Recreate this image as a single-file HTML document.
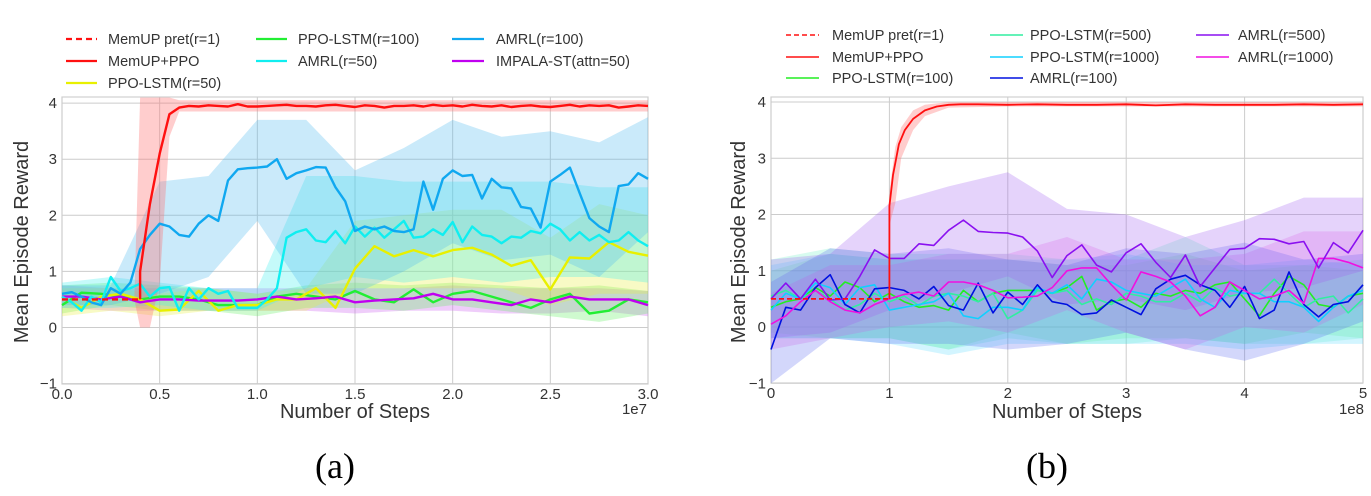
<!DOCTYPE html>
<html><head><meta charset="utf-8"><style>
html,body{margin:0;padding:0;background:#fff;}
svg{display:block;font-family:"Liberation Sans",sans-serif;}
.tk{font-size:15px;fill:#333;}
.lg{font-size:14.5px;fill:#333;}
.ax{font-size:20px;fill:#333;}
.cap{font-family:"Liberation Serif",serif;font-size:36px;fill:#000;}
</style></head><body>
<svg id="root" width="1371" height="496" viewBox="0 0 1371 496" xmlns="http://www.w3.org/2000/svg">
<g id="chartA"></g>
<g id="chartB"></g>

<g>
 <g><line x1="66" y1="39" x2="97" y2="39" stroke="#ff1010" stroke-width="2.2" stroke-dasharray="6,4"/><text class="lg" x="108" y="44">MemUP pret(r=1)</text></g>
 <g><line x1="66" y1="61" x2="97" y2="61" stroke="#ff1010" stroke-width="2.2"/><text class="lg" x="108" y="66">MemUP+PPO</text></g>
 <g><line x1="66" y1="83" x2="97" y2="83" stroke="#e8f000" stroke-width="2.2"/><text class="lg" x="108" y="88">PPO-LSTM(r=50)</text></g>
 <g><line x1="256" y1="39" x2="287" y2="39" stroke="#22ee33" stroke-width="2.2"/><text class="lg" x="298" y="44">PPO-LSTM(r=100)</text></g>
 <g><line x1="256" y1="61" x2="287" y2="61" stroke="#10eef0" stroke-width="2.2"/><text class="lg" x="298" y="66">AMRL(r=50)</text></g>
 <g><line x1="452" y1="39" x2="484" y2="39" stroke="#10a8f0" stroke-width="2.2"/><text class="lg" x="496" y="44">AMRL(r=100)</text></g>
 <g><line x1="452" y1="61" x2="484" y2="61" stroke="#c000f0" stroke-width="2.2"/><text class="lg" x="496" y="66">IMPALA-ST(attn=50)</text></g>
</g>
<g>
 <g><line x1="786" y1="35" x2="819" y2="35" stroke="#ff1010" stroke-width="1.6" stroke-dasharray="5,3"/><text class="lg" x="832" y="40">MemUP pret(r=1)</text></g>
 <g><line x1="786" y1="57" x2="819" y2="57" stroke="#ff1010" stroke-width="1.6"/><text class="lg" x="832" y="62">MemUP+PPO</text></g>
 <g><line x1="786" y1="78" x2="819" y2="78" stroke="#22ee22" stroke-width="1.6"/><text class="lg" x="832" y="83">PPO-LSTM(r=100)</text></g>
 <g><line x1="990" y1="35" x2="1023" y2="35" stroke="#30eea0" stroke-width="1.6"/><text class="lg" x="1030" y="40">PPO-LSTM(r=500)</text></g>
 <g><line x1="990" y1="57" x2="1023" y2="57" stroke="#10d0ff" stroke-width="1.6"/><text class="lg" x="1030" y="62">PPO-LSTM(r=1000)</text></g>
 <g><line x1="990" y1="78" x2="1023" y2="78" stroke="#0010e0" stroke-width="1.6"/><text class="lg" x="1030" y="83">AMRL(r=100)</text></g>
 <g><line x1="1196" y1="35" x2="1229" y2="35" stroke="#8a10f0" stroke-width="1.6"/><text class="lg" x="1238" y="40">AMRL(r=500)</text></g>
 <g><line x1="1196" y1="57" x2="1229" y2="57" stroke="#f010e0" stroke-width="1.6"/><text class="lg" x="1238" y="62">AMRL(r=1000)</text></g>
</g>

<text class="ax" x="28" y="242" text-anchor="middle" transform="rotate(-90 28 242)">Mean Episode Reward</text>
<text class="ax" x="355" y="418" text-anchor="middle">Number of Steps</text>
<text class="tk" x="647" y="414" text-anchor="end">1e7</text>
<text class="ax" x="745" y="242" text-anchor="middle" transform="rotate(-90 745 242)">Mean Episode Reward</text>
<text class="ax" x="1067" y="418" text-anchor="middle">Number of Steps</text>
<text class="tk" x="1364" y="414" text-anchor="end">1e8</text>
<text class="cap" x="335" y="478" text-anchor="middle">(a)</text>
<text class="cap" x="1047" y="478" text-anchor="middle">(b)</text>
</svg>
<script>
// ---------- Chart A data (x in 1e7) ----------
const aXTicks = [0, 0.5, 1, 1.5, 2, 2.5, 3];
const aXTickLabels = ["0.0","0.5","1.0","1.5","2.0","2.5","3.0"];
const yTicks = [-1, 0, 1, 2, 3, 4];
const yTickLabels = ["\u22121","0","1","2","3","4"];
const aMemPretX = [0, 0.4];
const aMemPretY = [0.5, 0.5];
const aMemStart = 0.4;
const aMemY = [1.0,2.2,3.1,3.8,3.92,3.95,3.94,3.96,3.95,3.94,3.98,3.94,3.94,3.95,3.96,3.97,3.95,3.95,3.94,3.96,3.97,3.95,3.93,3.96,3.95,3.92,3.95,3.95,3.96,3.94,3.97,3.95,3.96,3.94,3.97,3.95,3.94,3.96,3.93,3.95,3.96,3.94,3.93,3.95,3.97,3.94,3.96,3.95,3.96,3.92,3.94,3.96,3.95];
const aMemBandX = [0.37,0.4,0.45,0.5,0.55,0.6,3.0];
const aMemBandHi = [0.5,4.1,4.1,4.1,4.1,4.05,4.05];
const aMemBandLo = [0.5,0,0,0.8,3.4,3.85,3.85];
const aAmrl100Y = [0.6,0.63,0.55,0.45,0.4,0.7,0.6,0.8,1.4,1.65,1.85,1.8,1.65,1.62,1.85,2.0,1.9,2.62,2.82,2.84,2.85,2.87,3.0,2.65,2.75,2.8,2.86,2.85,2.5,2.25,1.72,1.8,1.75,1.8,1.72,1.7,1.75,2.6,2.1,2.65,2.8,2.7,2.72,2.3,2.65,2.5,2.48,2.15,2.12,1.78,2.6,2.72,2.85,2.4,1.95,1.8,1.7,2.52,2.55,2.75,2.65];
const aAmrl50Y = [0.55,0.45,0.3,0.55,0.45,0.9,0.65,0.7,0.78,0.55,0.7,0.72,0.3,0.7,0.5,0.7,0.6,0.65,0.35,0.35,0.35,0.5,0.7,1.6,1.7,1.75,1.55,1.52,1.72,1.5,1.8,1.62,1.78,1.6,1.75,1.9,1.6,1.62,1.75,1.65,1.88,1.52,1.8,1.65,1.62,1.5,1.62,1.6,1.72,1.68,1.85,1.75,1.55,1.7,1.55,1.65,1.52,1.55,1.7,1.55,1.45];
const aPpo50Y = [0.55,0.35,0.55,0.6,0.5,0.3,0.32,0.65,0.3,0.4,0.4,0.5,0.5,0.7,0.35,1.05,1.45,1.27,1.38,1.27,1.38,1.42,1.3,1.1,1.2,0.68,1.25,1.23,1.52,1.35,1.28];
const aPpo100Y = [0.4,0.62,0.6,0.55,0.5,0.55,0.55,0.5,0.4,0.4,0.4,0.55,0.6,0.55,0.5,0.65,0.5,0.45,0.68,0.45,0.6,0.65,0.55,0.45,0.35,0.5,0.6,0.25,0.3,0.5,0.45];
const aImpalaY = [0.55,0.55,0.5,0.55,0.45,0.5,0.5,0.48,0.48,0.48,0.5,0.55,0.5,0.52,0.55,0.45,0.48,0.5,0.52,0.6,0.5,0.5,0.45,0.4,0.5,0.45,0.55,0.5,0.5,0.5,0.4];
const aBandX = [0,0.25,0.5,0.75,1,1.25,1.5,1.75,2,2.25,2.5,2.75,3];
const aAmrl100Hi = [0.75,0.75,2.6,2.7,3.7,3.7,2.8,3.2,3.7,3.4,3.5,3.3,3.75];
const aAmrl100Lo = [0.4,0.4,0.6,0.9,1.9,0.6,0.6,1.0,1.5,1.2,1.3,0.9,1.7];
const aAmrl50Hi = [0.8,0.9,0.8,0.7,0.7,2.7,2.7,2.6,2.6,2.6,2.6,2.5,2.5];
const aAmrl50Lo = [0.35,0.35,0.4,0.3,0.3,0.7,0.9,0.8,0.9,0.8,0.9,0.9,0.8];
const aPpo50Hi = [0.7,0.7,0.6,0.7,0.6,0.7,1.9,2.0,2.1,2.1,1.6,2.2,2.0];
const aPpo50Lo = [0.2,0.3,0.2,0.3,0.3,0.3,0.7,0.7,0.7,0.7,0.4,0.6,0.6];
const aPpo100Hi = [0.75,0.8,0.75,0.7,0.6,0.75,0.8,0.75,0.8,0.75,0.7,0.75,0.65];
const aPpo100Lo = [0.25,0.4,0.3,0.3,0.2,0.35,0.35,0.3,0.4,0.3,0.2,0.1,0.25];
const aImpalaHi = [0.75,0.7,0.7,0.7,0.7,0.7,0.7,0.7,0.75,0.7,0.7,0.7,0.65];
const aImpalaLo = [0.35,0.3,0.3,0.3,0.3,0.3,0.25,0.3,0.3,0.25,0.25,0.3,0.2];

// ---------- Chart B data (x in 1e8) ----------
const bXTicks = [0,1,2,3,4,5];
const bXTickLabels = ["0","1","2","3","4","5"];
const bMemPretX = [0, 1];
const bMemPretY = [0.5, 0.5];
const bMemX = [1.0,1.0,1.03,1.08,1.13,1.2,1.3,1.4,1.5,1.6,1.75,2,2.25,2.5,2.75,3,3.25,3.5,3.75,4,4.25,4.5,4.75,5];
const bMemY = [0.5,2.15,2.7,3.25,3.5,3.7,3.85,3.92,3.95,3.96,3.96,3.95,3.96,3.95,3.95,3.96,3.94,3.96,3.95,3.95,3.95,3.96,3.95,3.96];
const bMemBandX = [1.0,1.0,1.05,1.1,1.2,1.3,1.5,2,5];
const bMemBandHi = [0.5,2.4,3.2,3.55,3.85,3.95,4.0,4.0,4.0];
const bMemBandLo = [0.5,1.8,2.2,3.0,3.5,3.75,3.9,3.92,3.92];
const bStep = 0.125;
const bAmrl500Y = [0.5,0.78,0.5,0.85,0.48,0.5,0.9,1.37,1.22,1.22,1.48,1.45,1.72,1.9,1.7,1.68,1.67,1.6,1.35,0.88,1.27,1.46,1.1,0.98,1.32,1.48,1.15,0.88,1.28,0.72,1.05,1.38,1.4,1.57,1.56,1.48,1.52,1.05,1.5,1.32,1.72];
const bAmrl1000Y = [0.05,0.2,0.45,0.65,0.45,0.3,0.25,0.4,0.5,0.58,0.62,0.55,0.8,0.8,0.75,0.65,0.52,0.53,0.55,0.7,1.0,1.05,1.05,0.75,0.48,0.98,0.9,0.8,0.55,0.2,0.35,0.8,0.65,0.5,0.55,0.65,0.42,1.22,1.22,1.15,1.05];
const bAmrl100Y = [-0.4,0.35,0.3,0.7,0.93,0.4,0.25,0.68,0.7,0.65,0.5,0.72,0.38,0.3,0.78,0.25,0.62,0.4,0.75,0.45,0.4,0.22,0.25,0.48,0.35,0.22,0.68,0.85,0.92,0.75,0.65,0.35,0.72,0.15,0.3,0.98,0.4,0.18,0.4,0.45,0.75];
const bPpo100Y = [0.35,0.45,0.5,0.7,0.55,0.8,0.7,0.45,0.6,0.45,0.35,0.38,0.3,0.65,0.45,0.6,0.65,0.65,0.65,0.6,0.7,0.9,0.3,0.45,0.5,0.35,0.6,0.55,0.65,0.6,0.75,0.8,0.5,0.2,0.6,0.9,0.75,0.4,0.35,0.55,0.6];
const bPpo500Y = [0.55,0.65,0.5,0.65,0.5,0.3,0.4,0.6,0.45,0.55,0.38,0.55,0.6,0.55,0.45,0.6,0.15,0.3,0.65,0.6,0.65,0.4,0.5,0.4,0.6,0.55,0.45,0.45,0.6,0.45,0.7,0.55,0.6,0.6,0.85,0.6,0.35,0.5,0.55,0.25,0.5];
const bPpo1000Y = [0.3,0.6,0.5,0.78,0.7,0.4,0.7,0.75,0.3,0.35,0.4,0.45,0.6,0.2,0.15,0.35,0.35,0.3,0.7,0.6,0.75,0.5,0.85,0.8,0.65,0.6,0.55,0.7,0.85,0.5,0.35,0.65,0.6,0.6,0.45,0.45,0.35,0.1,0.35,0.55,0.65];
const bBandX = [0,0.5,1,1.5,2,2.5,3,3.5,4,4.5,5];
const bAmrl500Hi = [1.2,1.3,2.2,2.5,2.75,2.1,2.0,1.6,1.9,2.3,2.3];
const bAmrl500Lo = [-0.2,-0.1,0.3,0.6,0.9,0.4,0.5,0.3,0.6,0.7,1.0];
const bAmrl1000Hi = [0.6,1.1,1.1,1.3,1.3,1.6,1.2,1.2,1.3,1.7,1.7];
const bAmrl1000Lo = [-0.4,-0.2,0,0.1,-0.1,0.3,-0.1,-0.4,0,-0.1,0.4];
const bAmrl100Hi = [0.8,1.4,1.3,1.4,1.2,1.1,1.4,1.3,1.5,1.2,1.3];
const bAmrl100Lo = [-1.0,-0.2,-0.3,-0.3,-0.4,-0.3,-0.1,-0.4,-0.6,-0.3,0.1];
const bPpo100Hi = [1.0,1.3,1.2,1.2,1.2,1.1,1.1,1.3,1.0,1.1,1.0];
const bPpo100Lo = [-0.1,-0.2,-0.2,-0.4,-0.1,-0.3,-0.2,-0.2,-0.3,-0.1,-0.2];
const bPpo500Hi = [1.2,1.4,1.3,1.3,1.3,1.2,1.2,1.6,1.1,1.1,1.2];
const bPpo500Lo = [-0.2,-0.2,-0.2,-0.4,-0.2,-0.3,-0.3,-0.2,-0.3,-0.3,-0.2];
const bPpo1000Hi = [1.1,1.3,1.2,1.2,1.2,1.2,1.3,1.1,1.1,1.2,1.1];
const bPpo1000Lo = [-0.2,-0.2,-0.3,-0.5,-0.3,-0.3,-0.3,-0.3,-0.4,-0.3,-0.3];

const NS = "http://www.w3.org/2000/svg";
function mk(tag, attrs, parent){
  const e = document.createElementNS(NS, tag);
  for (const k in attrs) e.setAttribute(k, attrs[k]);
  parent.appendChild(e);
  return e;
}
function makeAxes(g, L, R, T, B, sx, sy, xt, xl, name){
  const bg = mk('rect', {x:L, y:T, width:R-L, height:B-T, fill:'#fff', stroke:'#d0d0d0', 'stroke-width':1.2}, g);
  
  
  xt.forEach((v,i)=>{
    const ln = mk('line', {x1:sx(v), x2:sx(v), y1:T, y2:B, stroke:'#cccccc', 'stroke-width':1}, g);
    
    
    const t = mk('text', {x:sx(v), y:B+15, 'text-anchor':'middle', class:'tk'}, g);
    t.textContent = xl[i];
    
    
  });
  yTicks.forEach((v,i)=>{
    const ln = mk('line', {x1:L, x2:R, y1:sy(v), y2:sy(v), stroke:'#cccccc', 'stroke-width':1}, g);
    
    
    const t = mk('text', {x:L-5, y:sy(v)+5, 'text-anchor':'end', class:'tk'}, g);
    t.textContent = yTickLabels[i];
    
    
  });
}
function band(g, xs, lo, hi, sx, sy, color, op, name){
  let d = '';
  xs.forEach((x,i)=>{ d += (i?'L':'M') + sx(x).toFixed(1) + ',' + sy(hi[i]).toFixed(1); });
  for (let i = xs.length-1; i >= 0; i--) d += 'L' + sx(xs[i]).toFixed(1) + ',' + sy(lo[i]).toFixed(1);
  const p = mk('path', {d:d+'Z', fill:color, 'fill-opacity':op, stroke:'none'}, g);
  
  
}
function line(g, xs, ys, sx, sy, color, w, name, dash){
  let d = '';
  ys.forEach((y,i)=>{ d += (i?'L':'M') + sx(xs[i]).toFixed(1) + ',' + sy(y).toFixed(1); });
  const attrs = {d:d, fill:'none', stroke:color, 'stroke-width':w, 'stroke-linejoin':'round'};
  if (dash) attrs['stroke-dasharray'] = dash;
  const p = mk('path', attrs, g);
  
  
}
function grid(n, start, step){ const a=[]; for(let i=0;i<n;i++) a.push(start+i*step); return a; }

// ---- Chart A ----
const gA = document.getElementById('chartA');
const sxA = v => 62 + v/3*586;
const syA = v => 327.5 - v*56.1;
makeAxes(gA, 62, 648, 97, 384, sxA, syA, aXTicks, aXTickLabels, 'chart-a');
band(gA, aBandX, aImpalaLo, aImpalaHi, sxA, syA, '#d070f0', 0.35, 'band-impala-st');
band(gA, aBandX, aPpo100Lo, aPpo100Hi, sxA, syA, '#60f060', 0.3, 'band-ppo-lstm-100');
band(gA, aBandX, aPpo50Lo, aPpo50Hi, sxA, syA, '#e8f040', 0.3, 'band-ppo-lstm-50');
band(gA, aBandX, aAmrl50Lo, aAmrl50Hi, sxA, syA, '#40eef0', 0.3, 'band-amrl-50');
band(gA, aBandX, aAmrl100Lo, aAmrl100Hi, sxA, syA, '#50b8f0', 0.3, 'band-amrl-100');
band(gA, aMemBandX, aMemBandLo, aMemBandHi, sxA, syA, '#ff7070', 0.35, 'band-memup-ppo');
const xA05 = grid(aAmrl100Y.length, 0, 0.05);
const xA10 = grid(aPpo50Y.length, 0, 0.1);
const xAMem = grid(aMemY.length, aMemStart, 0.05);
line(gA, xA10, aPpo100Y, sxA, syA, '#22ee33', 2.4, 'line-ppo-lstm-100');
line(gA, xA10, aPpo50Y, sxA, syA, '#e8f000', 2.4, 'line-ppo-lstm-50');
line(gA, xA10, aImpalaY, sxA, syA, '#c000f0', 2.4, 'line-impala-st');
line(gA, xA05, aAmrl50Y, sxA, syA, '#10eef0', 2.4, 'line-amrl-50');
line(gA, xA05, aAmrl100Y, sxA, syA, '#10a8f0', 2.4, 'line-amrl-100');
line(gA, aMemPretX, aMemPretY, sxA, syA, '#ff1010', 2.4, 'line-memup-pret', '6,4');
line(gA, [aMemStart].concat(xAMem), [0.5].concat(aMemY), sxA, syA, '#ff1010', 2.4, 'line-memup-ppo');

// ---- Chart B ----
const gB = document.getElementById('chartB');
const sxB = v => 771 + v/5*592;
const syB = v => 327 - v*56.25;
makeAxes(gB, 771, 1363, 97, 383, sxB, syB, bXTicks, bXTickLabels, 'chart-b');
band(gB, bBandX, bPpo100Lo, bPpo100Hi, sxB, syB, '#70f070', 0.25, 'band-ppo-lstm-100-b');
band(gB, bBandX, bPpo500Lo, bPpo500Hi, sxB, syB, '#60f0c0', 0.25, 'band-ppo-lstm-500');
band(gB, bBandX, bPpo1000Lo, bPpo1000Hi, sxB, syB, '#50d8ff', 0.25, 'band-ppo-lstm-1000');
band(gB, bBandX, bAmrl1000Lo, bAmrl1000Hi, sxB, syB, '#f060e8', 0.25, 'band-amrl-1000');
band(gB, bBandX, bAmrl100Lo, bAmrl100Hi, sxB, syB, '#5060f0', 0.25, 'band-amrl-100-b');
band(gB, bBandX, bAmrl500Lo, bAmrl500Hi, sxB, syB, '#a060f0', 0.28, 'band-amrl-500');
band(gB, bMemBandX, bMemBandLo, bMemBandHi, sxB, syB, '#ff7070', 0.35, 'band-memup-ppo-b');
const xB = grid(bAmrl500Y.length, 0, bStep);
line(gB, xB, bPpo100Y, sxB, syB, '#22ee22', 1.6, 'line-ppo-lstm-100-b');
line(gB, xB, bPpo500Y, sxB, syB, '#30eea0', 1.6, 'line-ppo-lstm-500');
line(gB, xB, bPpo1000Y, sxB, syB, '#10d0ff', 1.6, 'line-ppo-lstm-1000');
line(gB, xB, bAmrl100Y, sxB, syB, '#0010e0', 1.6, 'line-amrl-100-b');
line(gB, xB, bAmrl1000Y, sxB, syB, '#f010e0', 1.6, 'line-amrl-1000');
line(gB, xB, bAmrl500Y, sxB, syB, '#8a10f0', 1.6, 'line-amrl-500');
line(gB, bMemPretX, bMemPretY, sxB, syB, '#ff1010', 1.8, 'line-memup-pret-b', '5,3');
line(gB, bMemX, bMemY, sxB, syB, '#ff1010', 1.8, 'line-memup-ppo-b');
</script>
</body></html>
